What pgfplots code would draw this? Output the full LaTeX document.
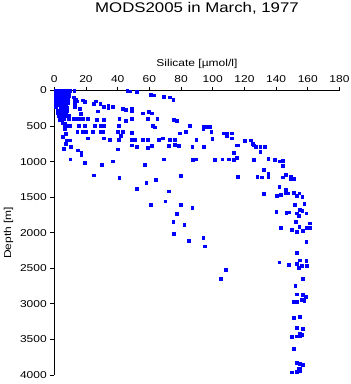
\documentclass[border=0pt]{standalone}
\usepackage{fontspec}
\setmainfont{Liberation Sans}[FakeStretch=1.2]
\usepackage{pgfplots}
\usepackage{pgfplotstable}
\pgfplotsset{compat=1.18}
\pgfplotstableread{
si depth
1 0
3 0
5 0
7 0
9 0
1 40
3 40
5 40
7 40
9 30
1 80
3 80
5 80
7 80
9 70
1 120
3 120
5 120
7 120
8.5 110
1 160
3 160
5 160
7 160
8.5 170
1 200
3 200
5 200
7 200
4 240
6 240
8 240
1 230
2 280
4 280
6 280
8 280
2 320
4 320
6 320
7.5 330
3 360
5 360
7 360
9 350
3.6 405
4.4 370
6 395
4.7 415
9 395
12 395
14.5 395
5 450
6.7 510
6.7 545
7 610
5.3 650
7.8 700
10 700
7.4 750
6 815
10.4 790
10 965
9 490
10 490
6.5 460
9.5 0
12.5 0
13 125
14 150
18 135
19 160
26 150
25 190
29 190
27.6 290
31 225
34 210
34 240
37 225
43 255
45 275
46 0
41 395
45 430
13 225
16 255
16.5 330
18 395
16 395
21 395
27 405
31 405
15.5 490
19 490
14.5 580
18 580
20 580
24 580
25.5 490
29 490
31 490
29 580
30.5 580
40.5 490
40 580
43 580
21 670
31 670
35 690
40.5 690
42 640
15 840
17 875
17 900
40 825
19 1015
30 1040
37 995
25 1190
12 95
13.7 125
12.9 180
47.5 10
52 20
61 55
63 65
69 85
73 95
75 125
49 255
49 290
56 320
59.5 300
61.7 320
59 395
65 395
75.5 405
77 425
49 395
62 490
63.5 515
85.7 490
94 510
96 510
98 510
94 540
99 575
49 590
79 600
83 575
107 600
109 600
112 600
109 640
112 670
49 690
51 690
56 690
59 690
66 690
68.5 670
73 690
76 695
89.5 695
99.6 680
49 770
52 790
59 800
61.7 780
72 780
76 760
78.6 780
87 790
94.5 790
115 770
113 875
115 940
69 965
87.4 975
89.5 965
101 975
106 965
110 965
113 975
57 1040
80 1190
120 705
124 700
125 745
126 770
115.6 770
127 790
130 790
133 790
130 855
126 975
135 955
139 975
142 995
144 985
144 1060
132 1110
41 1230
64 1250
80 1200
58 1295
52 1375
72 1415
70 1555
61 1605
80 1605
87 1650
77 1735
75 1850
82 1890
75.6 2015
85 2110
94 2075
95 2190
108 2520
105 2650
116 1210
128 1210
131 1220
135 1165
135 1220
144 1220
146 1185
149 1210
149 1240
151 1240
142 1350
146 1390
132 1455
140.5 1475
143 1465
147.6 1445
146 1445
151 1435
153 1480
154.6 1445
156.5 1490
151.9 1610
157.7 1595
140 1700
146.4 1715
148 1710
153 1725
154.8 1680
156.5 1690
154 1755
159 1725
152.6 1840
161 1865
154.6 1920
159 1930
161 1930
157 1970
153 1990
149.7 1960
143 1930
159 2130
153 2285
154.8 2385
159 2395
142 2415
148 2450
153 2435
156 2460
159.5 2460
154 2490
157 2650
152 2740
153 2865
157 2875
158.5 2900
156 2940
157.7 2950
153 2965
151 2965
151 3190
154.8 3180
153 3330
157 3350
155 3415
156.5 3435
153 3455
149.7 3465
154.8 3445
151 3630
153 3830
154.8 3840
157 3850
154.4 3905
154.8 3915
153 3950
154.8 3940
149.7 3960
}\datatable
\begin{document}
\begin{tikzpicture}[x=1pt,y=1pt]
\useasboundingbox (0,0) rectangle (351,384);
\node[anchor=base, font=\fontsize{14}{16}\selectfont, inner sep=0pt] at (197,371) {MODS2005 in March, 1977};
\begin{axis}[
  at={(54.3pt,9pt)}, anchor=south west,
  scale only axis, width=285.2pt, height=284.5pt,
  xmin=0, xmax=180, ymin=0, ymax=4000, y dir=reverse,
  axis x line=top, axis y line=left,
  axis line style={-, line width=0.8pt, black},
  xtick={0,20,...,180}, ytick={0,500,...,4000},
  tick align=outside, major tick length=4pt,
  tick style={line width=0.8pt, black},
  ticklabel style={font=\fontsize{10}{12}\selectfont},
  /pgf/number format/assume math mode=true,
  /pgf/number format/1000 sep={},
  xlabel={Silicate [µmol/l]}, ylabel={Depth [m]},
  label style={font=\fontsize{10}{12}\selectfont},
  clip=false,
]
\addplot[only marks, mark=square*, mark size=1.4pt, color=blue] table[x=si, y=depth] {\datatable};
\end{axis}
\end{tikzpicture}
\end{document}
